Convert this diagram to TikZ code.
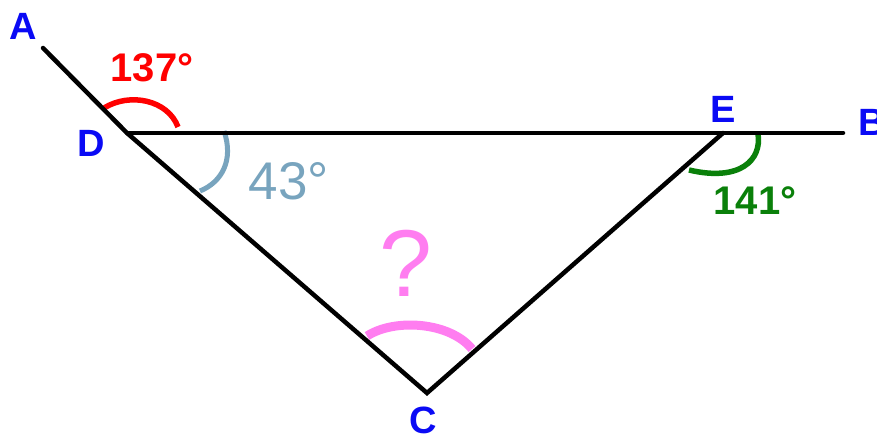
\documentclass[tikz,border=0pt]{standalone}
\usepackage{fontspec}
\setmainfont{Liberation Sans}
\usetikzlibrary{calc}

\definecolor{ptblue}{RGB}{10,10,245}
\definecolor{steel}{RGB}{120,164,190}
\definecolor{darkgreen}{RGB}{10,128,10}
\definecolor{pinkish}{RGB}{255,125,240}

\tikzset{
  pt/.style={font=\fontsize{38}{38}\selectfont\bfseries, text=ptblue, inner sep=0pt},
  ang/.style={font=\fontsize{40}{40}\selectfont\bfseries, inner sep=0pt},
  side/.style={line width=4.5pt, line cap=round},
}

\begin{document}
\begin{tikzpicture}[x=1pt,y=-1pt]
  \useasboundingbox (0,0) rectangle (877,438);
  % points
  \coordinate (A) at (43,48);
  \coordinate (D) at (127,133);
  \coordinate (E) at (723,133);
  \coordinate (B) at (843,133);
  \coordinate (C) at (427,393);
  % angle marks
  \draw[red, line width=5.5pt] (104,108) .. controls (130,92) and (168,100) .. (178,127);
  \draw[steel, line width=5pt] (224,131) .. controls (234,160) and (222,182) .. (200,191);
  \draw[darkgreen, line width=5.5pt] (758,134) .. controls (762,160) and (740,182) .. (689,170);
  \draw[pinkish, line width=9pt] (367,336) .. controls (395,318) and (450,322) .. (472,349);
  % sides
  \draw[side] (A) -- (D) -- (C) -- (E);
  \draw[side] (D) -- (B);
  % labels
  \node[pt] (lA) at (23,26) {A};
  \node[pt] (lD) at (91,143) {D};
  \node[pt] (lE) at (723,109) {E};
  \node[pt, anchor=west] (lB) at (858,122) {B};
  \node[pt] (lC) at (423,420) {C};
  \node[ang, red] (a1) at (152,68) {137°};
  \node[ang, darkgreen] (a2) at (755,201) {141°};
  \node[font=\fontsize{53}{53}\selectfont, text=steel, inner sep=0pt] (a3) at (289,181) {43°};
  \node[font=\fontsize{95}{95}\selectfont, text=pinkish, inner sep=0pt] (q) at (406,263) {?};
\end{tikzpicture}
\end{document}
